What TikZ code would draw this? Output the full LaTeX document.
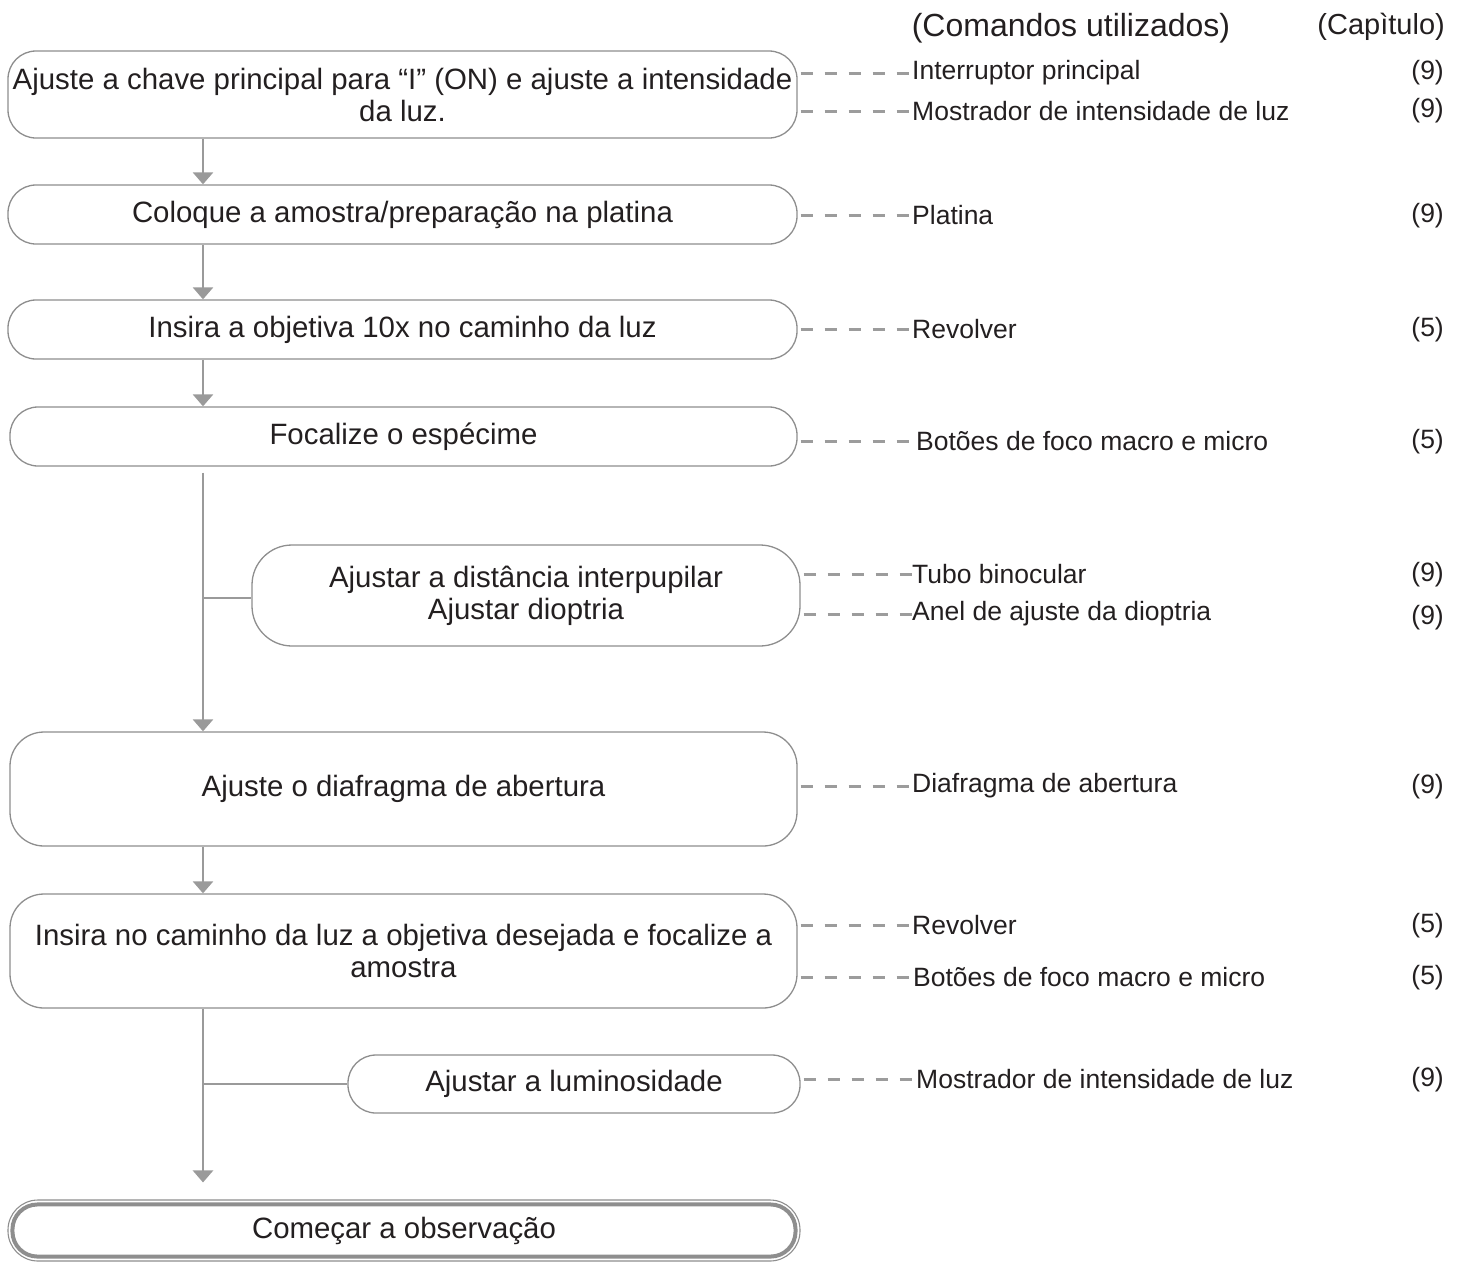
\documentclass[tikz,border=0pt]{standalone}
\usepackage{fontspec}
\setmainfont{Liberation Sans}
\usetikzlibrary{arrows.meta,calc}
\definecolor{boxgray}{HTML}{8E8E8E}
\definecolor{arrgray}{HTML}{9A9A9A}
\definecolor{dashgray}{HTML}{9C9C9C}
\definecolor{txt}{HTML}{231F20}
\begin{document}
\begin{tikzpicture}[x=1pt,y=-1pt,
  box/.style={draw=boxgray, line width=1.3pt, rounded corners=28pt, align=center,
    inner sep=0pt, text=txt, font=\fontsize{29.4}{32}\selectfont},
  arr/.style={draw=arrgray, line width=2.6pt, -{Triangle[width=20pt,length=12pt]}},
  conn/.style={draw=arrgray, line width=2.6pt},
  dashln/.style={draw=dashgray, line width=3pt, dash pattern=on 12pt off 12pt},
  lbl/.style={anchor=west, inner sep=0pt, text=txt, font=\fontsize{26.5}{30}\selectfont},
  num/.style={anchor=east, inner sep=0pt, text=txt, font=\fontsize{26.5}{30}\selectfont}]
\useasboundingbox (0,0) rectangle (1465,1262);

% headers
\node[inner sep=0pt, text=txt, font=\fontsize{32}{36}\selectfont] (h1) at (1071,28) {(Comandos utilizados)};
\node[anchor=east, inner sep=0pt, text=txt, font=\fontsize{29}{32}\selectfont] (h2) at (1445,27) {(Capìtulo)};

% main boxes
\node[box, minimum width=789pt, minimum height=87pt] (b1) at (402.5,94.5)
  {Ajuste a chave principal para “I” (ON) e ajuste a intensidade\\da luz.};
\node[box, minimum width=789pt, minimum height=59pt] (b2) at (402.5,214.5) {Coloque a amostra/preparação na platina};
\node[box, minimum width=789pt, minimum height=59pt] (b3) at (402.5,329.5) {Insira a objetiva 10x no caminho da luz};
\node[box, minimum width=787pt, minimum height=59pt] (b4) at (403.5,436.5) {Focalize o espécime};
\node[box, minimum width=548pt, minimum height=101pt, rounded corners=40pt] (b5) at (526,595.5)
  {Ajustar a distância interpupilar\\Ajustar dioptria};
\node[box, minimum width=787pt, minimum height=114pt, rounded corners=34pt] (b6) at (403.5,789) {Ajuste o diafragma de abertura};
\node[box, minimum width=787pt, minimum height=114pt, rounded corners=34pt] (b7) at (403.5,951)
  {Insira no caminho da luz a objetiva desejada e focalize a\\amostra};
\node[box, minimum width=452pt, minimum height=58pt] (b8) at (574,1084) {Ajustar a luminosidade};
\node[box, line width=1.1pt, minimum width=792pt, minimum height=61pt, rounded corners=30pt] (b9) at (404,1230.5) {Começar a observação};
\draw[draw=boxgray, line width=4pt, rounded corners=25pt]
  ($(b9.south west)+(5,-5)$) rectangle ($(b9.north east)+(-5,5)$);

% flow connectors
\coordinate (ax) at (203,0);
\draw[arr] (b1.south -| ax) -- (b2.north -| ax);
\draw[arr] (b2.south -| ax) -- (b3.north -| ax);
\draw[arr] (b3.south -| ax) -- (b4.north -| ax);
\draw[arr] ($(b4.south -| ax)+(0,6)$) -- (b6.north -| ax);
\draw[conn] ($(b5.west -| ax)+(0,2.5)$) -- ($(b5.west)+(0,2.5)$);
\draw[arr] (b6.south -| ax) -- (b7.north -| ax);
\coordinate (stop) at ($(b9.north -| ax)+(0,-17)$);
\draw[arr] (b7.south -| ax) -- (stop);
\draw[conn] (b8.west -| ax) -- (b8.west);

% labels
\node[lbl] (l1) at (912,73) {Interruptor principal};
\node[lbl] (l2) at (912,111) {Mostrador de intensidade de luz};
\node[lbl] (l3) at (912,215) {Platina};
\node[lbl] (l4) at (912,329) {Revolver};
\node[lbl] (l5) at (916,441) {Botões de foco macro e micro};
\node[lbl] (l6) at (912,574) {Tubo binocular};
\node[lbl] (l7) at (912,614) {Anel de ajuste da dioptria};
\node[lbl] (l8) at (912,786) {Diafragma de abertura};
\node[lbl] (l9) at (912,925) {Revolver};
\node[lbl] (l10) at (913,977) {Botões de foco macro e micro};
\node[lbl] (l11) at (916,1079) {Mostrador de intensidade de luz};

\node[num] (n1) at (1444,73) {(9)};
\node[num] (n2) at (1444,111) {(9)};
\node[num] (n3) at (1444,216) {(9)};
\node[num] (n4) at (1444,330) {(5)};
\node[num] (n5) at (1444,442) {(5)};
\node[num] (n6) at (1444,575) {(9)};
\node[num] (n7) at (1444,618) {(9)};
\node[num] (n8) at (1444,787) {(9)};
\node[num] (n9) at (1444,926) {(5)};
\node[num] (n10) at (1444,978) {(5)};
\node[num] (n11) at (1444,1080) {(9)};

% dashed connectors
\draw[dashln] ($(l1.west -| b1.east)+(3,0)$) -- (l1.west);
\draw[dashln] ($(l2.west -| b1.east)+(3,0)$) -- (l2.west);
\draw[dashln] ($(l3.west -| b2.east)+(3,0)$) -- (l3.west);
\draw[dashln] ($(l4.west -| b3.east)+(3,0)$) -- (l4.west);
\draw[dashln] ($(l5.west -| b4.east)+(3,0)$) -- (l5.west);
\draw[dashln] ($(l6.west -| b5.east)+(3,0)$) -- (l6.west);
\draw[dashln] ($(l7.west -| b5.east)+(3,0)$) -- (l7.west);
\draw[dashln] ($(l8.west -| b6.east)+(3,0)$) -- (l8.west);
\draw[dashln] ($(l9.west -| b7.east)+(3,0)$) -- (l9.west);
\draw[dashln] ($(l10.west -| b7.east)+(3,0)$) -- (l10.west);
\draw[dashln] ($(l11.west -| b8.east)+(3,0)$) -- (l11.west);
\end{tikzpicture}
\end{document}
